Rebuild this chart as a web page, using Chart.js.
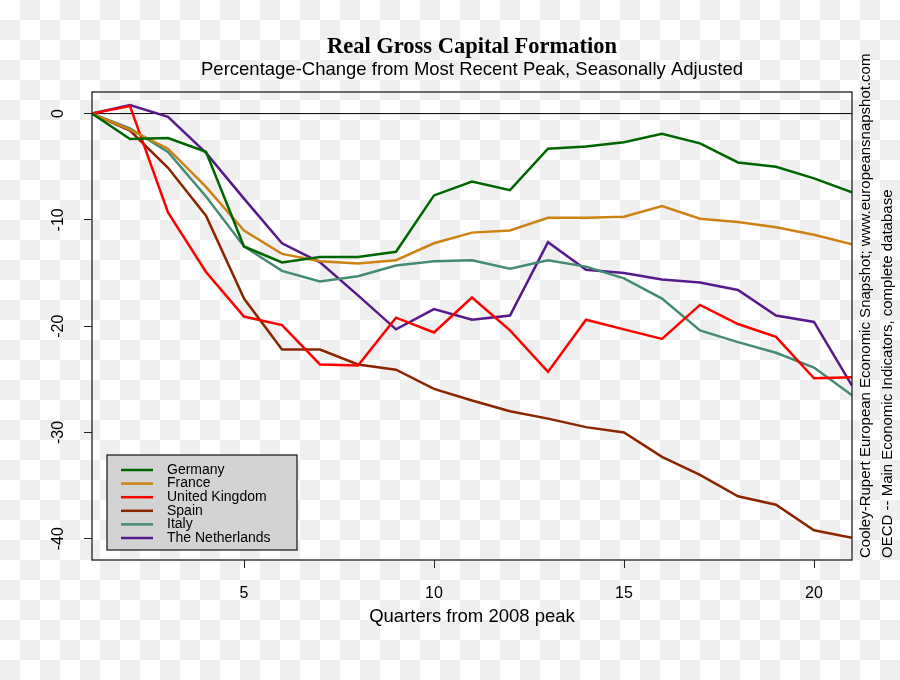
<!DOCTYPE html>
<html>
<head>
<meta charset="utf-8">
<script src="https://cdn.jsdelivr.net/npm/chart.js@4.4.1/dist/chart.umd.min.js"></script>
<style>
  html, body { margin: 0; padding: 0; }
  body {
    width: 900px; height: 680px; overflow: hidden;
    background-color: #fff;
    background-image: conic-gradient(#efefef 25%, #fff 0 50%, #efefef 0 75%, #fff 0);
    background-size: 40px 40px;
  }
  canvas { display: block; }
</style>
</head>
<body>
<canvas id="capitalChart" width="900" height="680"></canvas>
<script>
// quarters since the 2008 peak
const quarters = [1, 2, 3, 4, 5, 6, 7, 8, 9, 10, 11, 12, 13, 14, 15, 16, 17, 18, 19, 20, 21];

const germany = [0, -2.4, -2.3, -3.6, -12.5, -14.0, -13.5, -13.5, -13.0, -7.7, -6.4, -7.2, -3.3, -3.1, -2.7, -1.9, -2.8, -4.6, -5.0, -6.1, -7.4];
const france = [0, -1.5, -3.3, -6.9, -11.0, -13.2, -13.9, -14.1, -13.8, -12.2, -11.2, -11.0, -9.8, -9.8, -9.7, -8.7, -9.9, -10.2, -10.7, -11.4, -12.3];
const unitedKingdom = [0, 0.7, -9.3, -14.9, -19.1, -19.9, -23.6, -23.7, -19.2, -20.6, -17.3, -20.4, -24.3, -19.4, -20.3, -21.2, -18.0, -19.8, -21.0, -24.9, -24.8];
const spain = [0, -1.6, -5.1, -9.6, -17.4, -22.2, -22.2, -23.6, -24.1, -25.9, -27.0, -28.0, -28.7, -29.5, -30.0, -32.3, -34.0, -36.0, -36.8, -39.2, -39.9];
const italy = [0, -1.4, -3.6, -7.8, -12.5, -14.8, -15.8, -15.3, -14.3, -13.9, -13.8, -14.6, -13.8, -14.4, -15.5, -17.4, -20.4, -21.5, -22.5, -23.9, -26.5];
const netherlands = [0, 0.8, -0.3, -3.7, -8.0, -12.2, -14.0, -17.1, -20.3, -18.4, -19.4, -19.0, -12.1, -14.7, -15.0, -15.6, -15.9, -16.6, -19.0, -19.6, -25.6];

const xTicks = [5, 10, 15, 20];
const yTicks = [0, -10, -20, -30, -40];

const series = [
    { label: 'Germany', values: germany, color: '#006400' },
    { label: 'France', values: france, color: '#CD8214' },
    { label: 'United Kingdom', values: unitedKingdom, color: '#FF0000' },
    { label: 'Spain', values: spain, color: '#8B2500' },
    { label: 'Italy', values: italy, color: '#458B74' },
    { label: 'The Netherlands', values: netherlands, color: '#551A8B' }
];

const sans = '"Liberation Sans", Arial, sans-serif';

// titles, box, zero line, y labels, legend, source notes
const decorations = {
    id: 'decorations',
    beforeDatasetsDraw(chart) {
        const { ctx, chartArea: a, scales: { y } } = chart;
        const y0 = y.getPixelForValue(0);
        ctx.save();
        ctx.strokeStyle = '#000';
        ctx.lineWidth = 1;
        ctx.beginPath();
        ctx.moveTo(a.left, y0);
        ctx.lineTo(a.right, y0);
        ctx.stroke();
        ctx.restore();
    },
    afterDraw(chart) {
        const { ctx, chartArea: a, scales: { y } } = chart;
        ctx.save();

        ctx.strokeStyle = '#222';
        ctx.lineWidth = 1.3;
        ctx.strokeRect(a.left, a.top, a.right - a.left, a.bottom - a.top);

        ctx.fillStyle = '#000';
        ctx.textAlign = 'center';
        ctx.textBaseline = 'middle';
        ctx.font = 'bold 22.5px "Liberation Serif", "Times New Roman", serif';
        ctx.fillText('Real Gross Capital Formation', 472, 47);
        ctx.font = '18.5px ' + sans;
        ctx.fillText('Percentage-Change from Most Recent Peak, Seasonally Adjusted', 472, 70);

        ctx.font = '18.5px ' + sans;
        ctx.fillText('Quarters from 2008 peak', 472, 617);

        // y tick labels, parallel to the axis
        ctx.font = '16px ' + sans;
        y.ticks.forEach(t => {
            ctx.save();
            ctx.translate(59, y.getPixelForValue(t.value));
            ctx.rotate(-Math.PI / 2);
            ctx.fillText(String(t.value), 0, 0);
            ctx.restore();
        });

        // source notes on the right
        ctx.font = '15px ' + sans;
        ctx.textAlign = 'left';
        [['Cooley-Rupert European Economic Snapshot; www.europeansnapshot.com', 866],
         ['OECD -- Main Economic Indicators, complete database', 888]].forEach(([txt, x]) => {
            ctx.save();
            ctx.translate(x, 558);
            ctx.rotate(-Math.PI / 2);
            ctx.fillText(txt, 0, 0);
            ctx.restore();
        });

        // legend
        ctx.fillStyle = '#d3d3d3';
        ctx.fillRect(107, 455, 190, 95);
        ctx.strokeStyle = '#222';
        ctx.lineWidth = 1.3;
        ctx.strokeRect(107, 455, 190, 95);
        ctx.font = '14px ' + sans;
        chart.data.datasets.forEach((ds, i) => {
            const ly = 470 + i * 13.6;
            ctx.strokeStyle = ds.borderColor;
            ctx.lineWidth = 2.5;
            ctx.beginPath();
            ctx.moveTo(121, ly);
            ctx.lineTo(153, ly);
            ctx.stroke();
            ctx.fillStyle = '#000';
            ctx.fillText(ds.label, 167, ly);
        });

        ctx.restore();
    }
};

new Chart(document.getElementById('capitalChart'), {
    type: 'line',
    data: {
        datasets: series.map(s => ({
            label: s.label,
            data: quarters.map((q, i) => ({ x: q, y: s.values[i] })),
            borderColor: s.color,
            backgroundColor: s.color,
            borderWidth: 2.5,
            pointRadius: 0,
            tension: 0,
            fill: false
        }))
    },
    options: {
        responsive: false,
        animation: false,
        layout: { padding: { top: 92, right: 48, left: 0, bottom: 0 } },
        plugins: {
            legend: { display: false },
            title: { display: false },
            tooltip: { enabled: false }
        },
        scales: {
            x: {
                type: 'linear',
                min: 1,
                max: 21,
                afterBuildTicks: scale => { scale.ticks = xTicks.map(v => ({ value: v })); },
                afterFit: scale => { scale.height = 120; },
                grid: { drawOnChartArea: false, drawTicks: true, tickLength: 8, color: '#222', lineWidth: 1 },
                border: { display: false },
                ticks: { color: '#000', font: { family: sans, size: 16 }, padding: 16, maxRotation: 0 }
            },
            y: {
                type: 'linear',
                min: -42,
                max: 2.03,
                afterBuildTicks: scale => { scale.ticks = yTicks.map(v => ({ value: v })); },
                afterFit: scale => { scale.width = 92; },
                grid: { drawOnChartArea: false, drawTicks: true, tickLength: 8, color: '#222', lineWidth: 1 },
                border: { display: false },
                ticks: { display: false }
            }
        }
    },
    plugins: [decorations]
});
</script>
</body>
</html>
